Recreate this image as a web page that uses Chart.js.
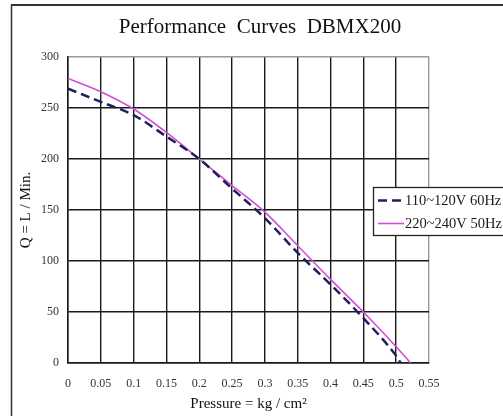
<!DOCTYPE html>
<html>
<head>
<meta charset="utf-8">
<script src="https://cdn.jsdelivr.net/npm/chart.js@4.4.1/dist/chart.umd.min.js"></script>
<style>
  html, body { margin: 0; padding: 0; background: #ffffff; }
  #wrap { position: relative; width: 503px; height: 416px; }
</style>
</head>
<body>
<div id="wrap"><canvas id="c"></canvas></div>
<script>
// ---- data ----
const chartTitle = 'Performance  Curves  DBMX200';
const xAxisTitle = 'Pressure = kg / cm\u00B2';
const yAxisTitle = 'Q = L / Min.';
const seriesNames = ['110~120V 60Hz', '220~240V 50Hz'];

const pressure60 = [0, 0.05, 0.1, 0.15, 0.2, 0.25, 0.3, 0.35, 0.4, 0.45, 0.5, 0.507];
const flow60     = [269, 256, 243, 222, 200, 171, 142, 108, 77, 44, 7, 0];

const pressure50 = [0, 0.05, 0.1, 0.15, 0.2, 0.25, 0.3, 0.35, 0.4, 0.45, 0.5, 0.522];
const flow50     = [279, 266, 249, 226, 200, 174, 148, 115, 82, 50, 16, 0];

const xTickValues = [0, 0.05, 0.1, 0.15, 0.2, 0.25, 0.3, 0.35, 0.4, 0.45, 0.5, 0.55];
const xTickLabels = ['0', '0.05', '0.1', '0.15', '0.2', '0.25', '0.3', '0.35', '0.4', '0.45', '0.5', '0.55'];
const yTickValues = [0, 50, 100, 150, 200, 250, 300];
const yTickLabels = ['0', '50', '100', '150', '200', '250', '300'];

// ---- build ----
const toPoints = (xs, ys) => xs.map((x, i) => ({ x: x, y: ys[i] }));
const SERIF = "'Liberation Serif', 'DejaVu Serif', serif";
const GRID = '#1a1a1a';
const GRID_EDGE = '#9a9a9a';

const framePlugin = {
  id: 'frame',
  beforeDraw(chart) {
    const ctx = chart.ctx;
    ctx.save();
    ctx.fillStyle = '#ffffff';
    ctx.fillRect(0, 0, chart.width, chart.height);
    ctx.strokeStyle = '#333333';
    ctx.lineWidth = 2;
    ctx.beginPath();
    ctx.moveTo(11, 5);
    ctx.lineTo(chart.width, 5);
    ctx.stroke();
    ctx.lineWidth = 1.5;
    ctx.beginPath();
    ctx.moveTo(11.5, 5);
    ctx.lineTo(11.5, chart.height);
    ctx.stroke();
    ctx.restore();
  }
};

const boxLegendPlugin = {
  id: 'boxLegend',
  afterDraw(chart) {
    const ctx = chart.ctx;
    const bx = 373.5, by = 187.5, bw = 140, bh = 48;
    ctx.save();
    ctx.fillStyle = '#ffffff';
    ctx.fillRect(bx, by, bw, bh);
    ctx.strokeStyle = '#222222';
    ctx.lineWidth = 1.3;
    ctx.strokeRect(bx, by, bw, bh);
    const rows = [200.5, 223.5];
    chart.data.datasets.forEach((ds, i) => {
      const y = rows[i];
      ctx.strokeStyle = ds.borderColor;
      ctx.lineWidth = ds.borderWidth;
      ctx.setLineDash(ds.borderDash || []);
      ctx.beginPath();
      ctx.moveTo(378, y);
      ctx.lineTo(404, y);
      ctx.stroke();
      ctx.setLineDash([]);
      ctx.fillStyle = '#1a1a1a';
      ctx.font = "14.5px " + SERIF;
      ctx.textBaseline = 'middle';
      ctx.textAlign = 'left';
      ctx.fillText(ds.label, 405, y + 1);
    });
    ctx.restore();
  }
};

new Chart(document.getElementById('c'), {
  type: 'line',
  data: {
    datasets: [
      {
        label: seriesNames[0],
        data: toPoints(pressure60, flow60),
        borderColor: '#1f1f5e',
        borderWidth: 2.5,
        borderDash: [9, 5],
        pointRadius: 0,
        tension: 0.4,
        cubicInterpolationMode: 'monotone',
        fill: false
      },
      {
        label: seriesNames[1],
        data: toPoints(pressure50, flow50),
        borderColor: '#d24fd2',
        borderWidth: 1.6,
        pointRadius: 0,
        tension: 0.4,
        cubicInterpolationMode: 'monotone',
        fill: false
      }
    ]
  },
  options: {
    responsive: true,
    maintainAspectRatio: false,
    animation: false,
    layout: { padding: { left: 17, right: 0, top: 0, bottom: 0 } },
    plugins: {
      legend: { display: false },
      tooltip: { enabled: false },
      title: {
        display: true,
        text: chartTitle,
        color: '#111111',
        font: { family: SERIF, size: 21, weight: 'normal', lineHeight: 1.2 },
        padding: { top: 14.5, bottom: 17.3 }
      }
    },
    scales: {
      x: {
        type: 'linear',
        min: 0,
        max: 0.55,
        afterBuildTicks: (s) => { s.ticks = xTickValues.map(v => ({ value: v })); },
        afterFit: (s) => { s.height = 53; },
        ticks: {
          autoSkip: false,
          maxRotation: 0,
          minRotation: 0,
          padding: 14,
          color: '#333333',
          font: { family: SERIF, size: 12 },
          callback: (v, i) => xTickLabels[i]
        },
        grid: {
          drawTicks: false,
          lineWidth: 1.4,
          color: (c) => (c.tick && c.tick.value === 0.55 ? GRID_EDGE : GRID)
        },
        border: { display: true, color: GRID, width: 1.5 },
        title: {
          display: true,
          text: xAxisTitle,
          color: '#111111',
          font: { family: SERIF, size: 15 },
          padding: { top: 0, bottom: 3 }
        }
      },
      y: {
        type: 'linear',
        min: 0,
        max: 300,
        afterBuildTicks: (s) => { s.ticks = yTickValues.map(v => ({ value: v })); },
        afterFit: (s) => { s.width = 51; },
        ticks: {
          padding: 9,
          color: '#333333',
          font: { family: SERIF, size: 12 },
          callback: (v, i) => yTickLabels[i]
        },
        grid: {
          drawTicks: false,
          lineWidth: 1.4,
          color: (c) => (c.tick && c.tick.value === 300 ? GRID_EDGE : GRID)
        },
        border: { display: true, color: GRID, width: 1.5 },
        title: {
          display: true,
          text: yAxisTitle,
          color: '#111111',
          font: { family: SERIF, size: 15 },
          padding: { top: 0, bottom: 0 }
        }
      },
      yRight: {
        type: 'linear',
        position: 'right',
        display: true,
        afterFit: (s) => { s.width = 74; },
        ticks: { display: false },
        grid: { display: false, drawTicks: false },
        border: { display: false }
      }
    }
  },
  plugins: [framePlugin, boxLegendPlugin]
});
</script>
</body>
</html>
